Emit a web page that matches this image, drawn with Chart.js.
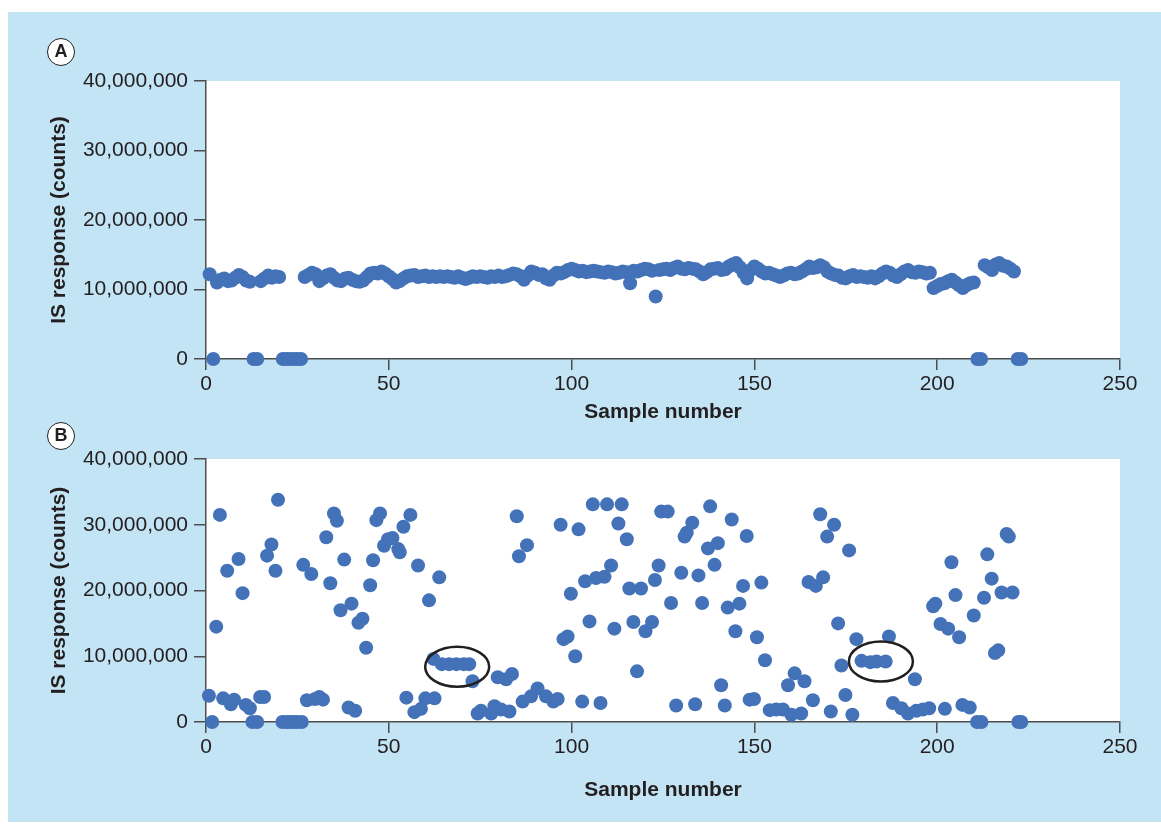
<!DOCTYPE html>
<html>
<head>
<meta charset="utf-8">
<title>IS response</title>
<script src="https://cdn.jsdelivr.net/npm/chart.js@4.4.1/dist/chart.umd.min.js"></script>
<style>
  html, body { margin: 0; padding: 0; background: #fff; }
  #page { position: relative; width: 1161px; height: 829px; overflow: hidden; background: #fff; }
  #panel { position: absolute; left: 8px; top: 12px; width: 1153px; height: 810px; background: #c3e4f5; }
  canvas { position: absolute; left: 0; }
  #chartA { top: 0; }
  #chartB { top: 440px; }
  .tag {
    position: absolute; width: 28px; height: 28px; box-sizing: border-box;
    border: 1.5px solid #231f20; border-radius: 50%; background: #fff;
    font: bold 18px "Liberation Sans", Arial, sans-serif; color: #231f20;
    text-align: center; line-height: 25px;
  }
</style>
</head>
<body>
<div id="page">
  <div id="panel"></div>
  <canvas id="chartA" width="1161" height="440"></canvas>
  <canvas id="chartB" width="1161" height="389"></canvas>
  <div class="tag" style="left:47px; top:38px;">A</div>
  <div class="tag" style="left:47px; top:422px;">B</div>
</div>
<script>
// values are in millions of counts
const MILLION = 1000000;

const xTicks = [0, 50, 100, 150, 200, 250];
const yTicks = [0, 10, 20, 30, 40];

// panel A: one value per sample, sample number = position in the list (1, 2, 3 ...)
const valuesA = [
  12.2, 0, 11.0, 11.4, 11.6, 11.2, 11.3, 11.7, 12.1, 11.8,
  11.3, 11.1, 0, 0, 11.2, 11.6, 12.0, 11.7, 11.9, 11.8,
  0, 0, 0, 0, 0, 0, 11.8, 12.1, 12.4, 12.2,
  11.2, 11.6, 12.0, 12.2, 11.7, 11.3, 11.2, 11.6, 11.7, 11.4,
  11.2, 11.1, 11.3, 11.8, 12.3, 12.4, 12.3, 12.6, 12.3, 11.9,
  11.5, 11.0, 11.2, 11.6, 11.9, 12.0, 12.1, 11.8, 11.9, 12.0,
  11.8, 11.9, 11.8, 11.9, 11.8, 11.9, 11.8, 11.7, 11.9, 11.7,
  11.5, 11.7, 11.9, 11.8, 11.9, 11.8, 11.7, 11.9, 11.8, 12.0,
  11.8, 11.9, 12.1, 12.3, 12.2, 11.9, 11.4, 12.0, 12.6, 12.4,
  12.1, 12.2, 11.6, 11.4, 12.0, 12.4, 12.3, 12.5, 12.8, 13.0,
  12.8, 12.6, 12.7, 12.5, 12.6, 12.7, 12.6, 12.5, 12.4, 12.6,
  12.5, 12.3, 12.4, 12.6, 12.5, 10.9, 12.7, 12.6, 12.8, 13.0,
  12.9, 12.7, 9.0, 12.8, 12.9, 13.0, 12.8, 13.1, 13.3, 13.0,
  12.9, 13.1, 13.0, 12.9, 12.6, 12.2, 12.5, 12.9, 13.0, 13.1,
  12.8, 12.9, 13.3, 13.6, 13.8, 13.2, 12.4, 11.6, 12.8, 13.3,
  13.0, 12.6, 12.3, 12.4, 12.2, 12.0, 11.8, 12.0, 12.3, 12.4,
  12.2, 12.3, 12.6, 12.9, 13.3, 13.1, 13.2, 13.5, 13.2, 12.6,
  12.3, 12.1, 12.0, 11.7, 11.6, 11.9, 12.1, 11.8, 11.9, 11.8,
  11.7, 11.9, 11.6, 11.9, 12.3, 12.6, 12.4, 12.0, 11.8, 12.2,
  12.6, 12.8, 12.5, 12.4, 12.6, 12.5, 12.3, 12.4, 10.2, 10.5,
  10.8, 10.9, 11.2, 11.4, 11.0, 10.6, 10.2, 10.6, 10.9, 11.0,
  0, 0, 13.5, 13.2, 12.8, 13.6, 13.8, 13.4, 13.3, 13.0,
  12.6, 0, 0
];

// panel B: sample number and value, read point by point
const samplesB = [
  0.8, 1.7, 2.8, 3.8, 4.7, 5.8, 6.8, 7.7, 8.9, 10.0,
  10.9, 12.0, 12.7, 14.0, 14.8, 15.9, 16.7, 17.9, 19.0, 19.7,
  20.9, 22.0, 23.0, 24.0, 25.0, 26.2, 26.6, 27.6, 28.8, 29.8,
  31.0, 32.0, 32.9, 34.0, 35.0, 35.8, 36.8, 37.8, 39.0, 39.8,
  40.8, 41.7, 42.8, 43.8, 44.9, 45.7, 46.6, 47.6, 48.7, 49.8,
  51.0, 52.6, 53.0, 54.0, 54.8, 55.9, 57.0, 58.0, 58.8, 60.0,
  61.0, 62.2, 62.5, 63.8, 64.5, 66.5, 68.5, 70.5, 72.0, 72.9,
  74.3, 75.2, 78.0, 78.9, 79.8, 80.7, 82.1, 83.0, 83.7, 85.0,
  85.6, 86.6, 87.8, 88.9, 90.7, 93.0, 95.0, 96.2, 97.0, 97.8,
  98.9, 99.8, 101.0, 101.9, 102.9, 103.7, 104.9, 105.8, 106.7, 107.9,
  109.0, 109.7, 110.8, 111.7, 112.8, 113.7, 115.1, 115.8, 116.9, 117.9,
  119.0, 120.2, 122.0, 122.8, 123.8, 124.5, 126.3, 127.2, 128.6, 130.0,
  130.9, 131.5, 133.0, 133.8, 134.7, 135.7, 137.3, 137.9, 139.1, 140.0,
  140.9, 141.9, 142.7, 143.8, 144.8, 145.9, 146.9, 147.9, 148.7, 149.9,
  150.7, 151.9, 152.9, 154.2, 156.0, 157.8, 159.2, 160.1, 161.0, 162.8,
  163.7, 164.8, 166.0, 166.8, 168.0, 168.8, 169.9, 170.9, 171.8, 172.9,
  173.8, 174.9, 175.9, 176.8, 177.9, 179.3, 181.7, 183.4, 185.9, 186.8,
  187.9, 190.2, 192.0, 193.9, 194.3, 196.1, 197.8, 198.9, 199.5, 200.9,
  202.1, 203.0, 203.9, 205.0, 206.0, 206.9, 208.9, 210.0, 210.9, 212.1,
  212.8, 213.7, 214.9, 215.8, 216.7, 217.6, 219.0, 219.6, 220.6, 222.2,
  223.0
];
const valuesB = [
  4.0, 0, 14.5, 31.5, 3.6, 23.0, 2.7, 3.4, 24.8, 19.6,
  2.6, 2.1, 0, 0, 3.8, 3.8, 25.3, 27.0, 23.0, 33.8,
  0, 0, 0, 0, 0, 0, 23.9, 3.3, 22.5, 3.5,
  3.8, 3.4, 28.1, 21.1, 31.7, 30.6, 17.0, 24.7, 2.2, 18.0,
  1.7, 15.1, 15.7, 11.3, 20.8, 24.6, 30.7, 31.7, 26.8, 27.8,
  28.0, 26.3, 25.8, 29.7, 3.7, 31.5, 1.5, 23.8, 2.0, 3.6,
  18.5, 9.6, 3.6, 22.0, 8.8, 8.8, 8.8, 8.8, 8.8, 6.2,
  1.3, 1.7, 1.3, 2.4, 6.8, 1.9, 6.5, 1.6, 7.3, 31.3,
  25.2, 3.1, 26.9, 3.9, 5.1, 3.9, 3.1, 3.5, 30.0, 12.6,
  13.0, 19.5, 10.0, 29.3, 3.1, 21.4, 15.3, 33.1, 21.9, 2.9,
  22.1, 33.1, 23.8, 14.2, 30.2, 33.1, 27.8, 20.3, 15.2, 7.7,
  20.3, 13.8, 15.2, 21.6, 23.8, 32.0, 32.0, 18.1, 2.5, 22.7,
  28.2, 28.8, 30.3, 2.7, 22.3, 18.1, 26.4, 32.8, 23.9, 27.2,
  5.6, 2.5, 17.4, 30.8, 13.8, 18.0, 20.7, 28.3, 3.4, 3.5,
  12.9, 21.2, 9.4, 1.8, 1.9, 1.9, 5.6, 1.1, 7.4, 1.3,
  6.2, 21.3, 3.3, 20.7, 31.6, 22.0, 28.2, 1.6, 30.0, 15.0,
  8.6, 4.1, 26.1, 1.1, 12.6, 9.3, 9.1, 9.2, 9.2, 13.0,
  2.9, 2.1, 1.3, 6.5, 1.7, 1.9, 2.1, 17.6, 18.0, 14.9,
  2.0, 14.2, 24.3, 19.3, 12.9, 2.6, 2.2, 16.2, 0, 0,
  18.9, 25.5, 21.8, 10.5, 10.9, 19.7, 28.6, 28.2, 19.7, 0,
  0
];

// the two rings drawn round groups of points in panel B
const ringSamples = [68.7, 184.6];
const ringValues = [8.4, 9.2];

const FONT = '"Liberation Sans", Arial, Helvetica, sans-serif';
const INK = '#231f20';
const AXIS = '#4d4d4d';
const DOT = '#4472b8';

const whiteArea = {
  id: 'whiteArea',
  beforeDraw(chart) {
    const a = chart.chartArea;
    const ctx = chart.ctx;
    ctx.save();
    ctx.fillStyle = '#fff';
    ctx.fillRect(a.left, a.top, a.right - a.left, a.bottom - a.top);
    ctx.restore();
  }
};

const rings = {
  id: 'rings',
  afterDatasetsDraw(chart) {
    if (!chart.options.plugins.rings.show) return;
    const ctx = chart.ctx;
    ctx.save();
    ctx.strokeStyle = INK;
    ctx.lineWidth = 2.5;
    for (let i = 0; i < ringSamples.length; i++) {
      const cx = chart.scales.x.getPixelForValue(ringSamples[i]);
      const cy = chart.scales.y.getPixelForValue(ringValues[i] * MILLION);
      ctx.beginPath();
      ctx.ellipse(cx, cy, 32, 20, 0, 0, Math.PI * 2);
      ctx.stroke();
    }
    ctx.restore();
  }
};

function makeChart(id, points, opt) {
  const ctx = document.getElementById(id).getContext('2d');
  return new Chart(ctx, {
    type: 'scatter',
    data: {
      datasets: [{
        data: points,
        backgroundColor: DOT,
        borderWidth: 0,
        pointRadius: 7,
        pointHoverRadius: 7,
        clip: false
      }]
    },
    options: {
      responsive: false,
      animation: false,
      events: [],
      layout: { padding: { left: 0, top: opt.top, right: 41, bottom: 0 } },
      plugins: {
        legend: { display: false },
        tooltip: { enabled: false },
        rings: { show: opt.rings }
      },
      scales: {
        x: {
          type: 'linear',
          min: 0,
          max: 250,
          afterBuildTicks: (scale) => { scale.ticks = xTicks.map(v => ({ value: v })); },
          afterFit: (scale) => { scale.height = opt.xHeight; },
          grid: { drawOnChartArea: false, drawTicks: true, tickLength: 11, color: AXIS, lineWidth: 1.5 },
          border: { display: true, color: AXIS, width: 1.5 },
          ticks: { color: INK, font: { family: FONT, size: 21 }, padding: 2, maxRotation: 0 },
          title: {
            display: true,
            text: 'Sample number',
            color: INK,
            font: { family: FONT, size: 21, weight: 'bold', lineHeight: 1.2 },
            padding: { top: 0, bottom: opt.titlePad }
          }
        },
        y: {
          type: 'linear',
          min: 0,
          max: 40 * MILLION,
          afterBuildTicks: (scale) => { scale.ticks = yTicks.map(v => ({ value: v * MILLION })); },
          afterFit: (scale) => { scale.width = 206; },
          grid: { drawOnChartArea: false, drawTicks: true, tickLength: 12, color: AXIS, lineWidth: 1.5 },
          border: { display: true, color: AXIS, width: 1.5 },
          ticks: {
            color: INK,
            font: { family: FONT, size: 21 },
            padding: 6,
            callback: (v) => Number(v).toLocaleString('en-US')
          },
          title: {
            display: true,
            text: 'IS response (counts)',
            color: INK,
            font: { family: FONT, size: 21, weight: 'bold', lineHeight: 1.2 },
            padding: { top: 47, bottom: 0 }
          }
        }
      }
    },
    plugins: [whiteArea, rings]
  });
}

const pointsA = valuesA.map((v, i) => ({ x: i + 1, y: v * MILLION }));
const pointsB = samplesB.map((s, i) => ({ x: s, y: valuesB[i] * MILLION }));

makeChart('chartA', pointsA, { top: 81, xHeight: 81, titlePad: 15, rings: false });
makeChart('chartB', pointsB, { top: 19, xHeight: 107, titlePad: 26, rings: true });
</script>
</body>
</html>
